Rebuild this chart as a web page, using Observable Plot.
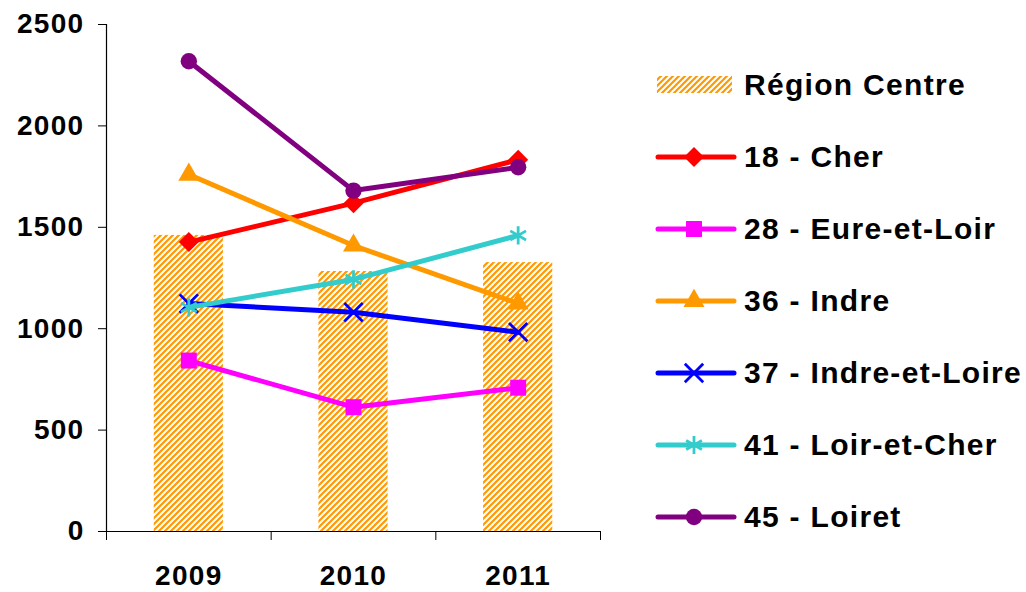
<!DOCTYPE html>
<html><head><meta charset="utf-8">
<script src="https://cdn.jsdelivr.net/npm/d3@7"></script>
<script src="https://cdn.jsdelivr.net/npm/@observablehq/plot@0.6"></script>
<style>
body{margin:0;background:#fff;font-family:"Liberation Sans",Arial,sans-serif;}
#wrap{position:relative;width:1026px;height:592px;overflow:hidden;}
#chart{position:absolute;left:0;top:0;}
#legend{position:absolute;left:655px;top:49px;}
.row{display:flex;align-items:center;height:72px;white-space:nowrap;font-weight:bold;font-size:30px;letter-spacing:1.3px;color:#000;}
.row svg{margin-right:7px;flex:none;}
</style></head><body>
<div id="wrap"><div id="chart"></div><div id="legend"></div></div>
<script>
const years = [2009, 2010, 2011];
const yTicks = [0, 500, 1000, 1500, 2000, 2500];
const regionName = "Région Centre";
const regionValues = [1460, 1282, 1326];
const seriesNames = ["18 - Cher", "28 - Eure-et-Loir", "36 - Indre", "37 - Indre-et-Loire", "41 - Loir-et-Cher", "45 - Loiret"];
const cher = [1427, 1619, 1833];
const eureEtLoir = [843, 613, 709];
const indre = [1760, 1410, 1124];
const indreEtLoire = [1124, 1081, 983];
const loirEtCher = [1105, 1243, 1460];
const loiret = [2319, 1681, 1796];
const seriesValues = [cher, eureEtLoir, indre, indreEtLoire, loirEtCher, loiret];
const seriesColors = ["#FF0000", "#FF00FF", "#FF9900", "#0000FF", "#33CCCC", "#800080"];
const seriesSymbols = ["diamond2", "square", "triangle", "times", "asterisk", "circle"];
const seriesFilled = [true, true, true, false, false, true];
const seriesR = [9, 9, 7.8, 8.4, 8.6, 8.2];
const hatchColor = "#FF9900";

const regionTable = years.map((year, i) => ({year, value: regionValues[i]}));
const series = seriesNames.map((name, k) => ({
  name, color: seriesColors[k], symbol: seriesSymbols[k], filled: seriesFilled[k], r: seriesR[k],
  data: years.map((year, i) => ({year, value: seriesValues[k][i]}))
}));
const xDomain = [years[0] - 0.5, years[years.length - 1] + 0.5];
const boundaries = years.map(y => y - 0.5).concat([years[years.length - 1] + 0.5]);
const halfBar = 0.21;

const plot = Plot.plot({
  width: 640, height: 592,
  marginLeft: 106, marginRight: 40, marginTop: 24, marginBottom: 61,
  style: {fontFamily: '"Liberation Sans", Arial, sans-serif', fontWeight: "bold", fontSize: "28px", letterSpacing: "1.3px", color: "#000", background: "#fff", overflow: "visible"},
  x: {type: "linear", domain: xDomain, label: null},
  y: {domain: [0, 2500], label: null},
  marks: [
    Plot.rectY(regionTable, {x1: d => d.year - halfBar, x2: d => d.year + halfBar, y: "value", fill: "url(#hatch)"}),
    Plot.ruleY([0], {stroke: "#000", strokeWidth: 1.2}),
    Plot.ruleX([xDomain[0]], {stroke: "#000", strokeWidth: 1.2}),
    Plot.axisY({ticks: yTicks, tickSize: 8, tickPadding: 14, tickFormat: d => String(d), label: null, stroke: "#000"}),
    Plot.axisX({ticks: boundaries, tickSize: 9, tickFormat: () => "", label: null, stroke: "#000"}),
    Plot.axisX({ticks: years, tickSize: 0, tickPadding: 34, tickFormat: d => String(d), label: null}),
    ...series.flatMap(s => [
      Plot.line(s.data, {x: "year", y: "value", stroke: s.color, strokeWidth: 5}),
      Plot.dot(s.data, {x: "year", y: "value", symbol: s.symbol, r: s.r,
        fill: s.filled ? s.color : "none", stroke: s.filled ? "none" : s.color, strokeWidth: 2.8})
    ])
  ]
});

function addHatch(svgNode, id) {
  const defs = d3.select(svgNode).insert("defs", ":first-child");
  const p = defs.append("pattern").attr("id", id).attr("patternUnits", "userSpaceOnUse")
    .attr("width", 6).attr("height", 6);
  p.append("rect").attr("width", 6).attr("height", 6).attr("fill", "#fff");
  p.append("path").attr("d", "M-1.5,1.5 l3,-3 M0,6 l6,-6 M4.5,7.5 l3,-3")
    .attr("stroke", hatchColor).attr("stroke-width", 2.2);
}
addHatch(plot, "hatch");
document.getElementById("chart").appendChild(plot);

// Legend
const legend = d3.select("#legend");
const r0 = legend.append("div").attr("class", "row");
const sw0 = r0.append("svg").attr("width", 82).attr("height", 30);
addHatch(sw0.node(), "hatchL");
sw0.append("rect").attr("x", 2).attr("y", 6).attr("width", 75).attr("height", 17).attr("fill", "url(#hatchL)");
r0.append("span").text(regionName);

const symMap = {diamond2: d3.symbolDiamond2, square: d3.symbolSquare, triangle: d3.symbolTriangle,
  times: d3.symbolTimes, asterisk: d3.symbolAsterisk, circle: d3.symbolCircle};
series.forEach(s => {
  const row = legend.append("div").attr("class", "row");
  const sw = row.append("svg").attr("width", 82).attr("height", 30);
  sw.append("line").attr("x1", 3).attr("x2", 79).attr("y1", 15).attr("y2", 15)
    .attr("stroke", s.color).attr("stroke-width", 5).attr("stroke-linecap", "round");
  sw.append("path").attr("transform", "translate(39,15)")
    .attr("d", d3.symbol(symMap[s.symbol], Math.PI * s.r * s.r)())
    .attr("fill", s.filled ? s.color : "none").attr("stroke", s.filled ? "none" : s.color)
    .attr("stroke-width", 2.8);
  row.append("span").text(s.name);
});
</script></body></html>
